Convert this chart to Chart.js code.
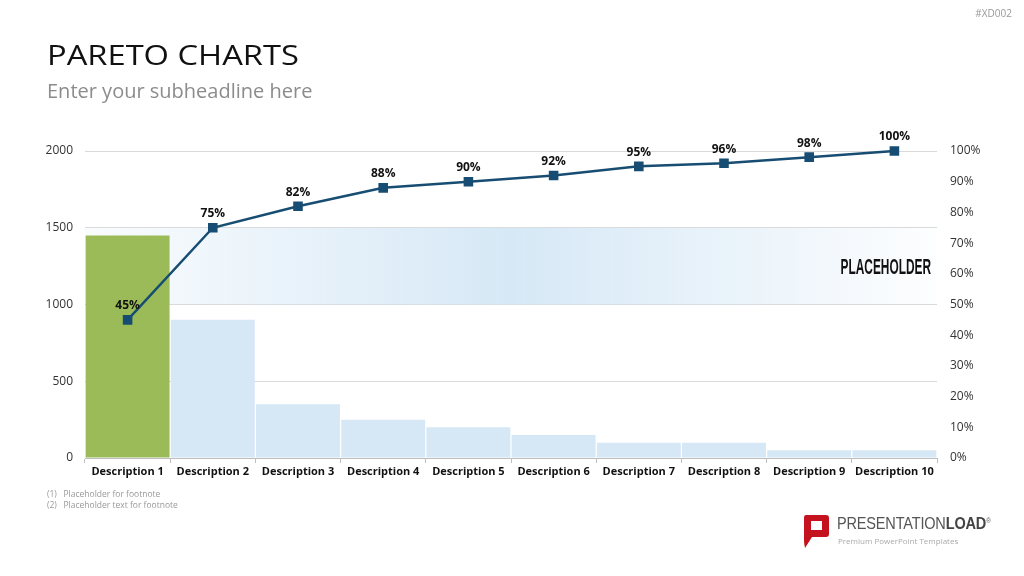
<!DOCTYPE html>
<html>
<head>
<meta charset="utf-8">
<script src="https://cdn.jsdelivr.net/npm/chart.js@4"></script>
<style>
  body { margin: 0; background: #fff; font-family: "Open Sans", sans-serif; }
  #wrap { position: relative; width: 1024px; height: 576px; overflow: hidden; }
  #chart { position: absolute; left: 0; top: 0; }
  .title { position: absolute; left: 47px; top: 36px; font-size: 27px; color: #111; white-space: nowrap;
    transform: scaleX(1.21); transform-origin: left top; }
  .sub { position: absolute; left: 47px; top: 77px; font-size: 20px; color: #8c8c8c; white-space: nowrap; }
  .code { position: absolute; right: 12px; top: 6px; font-size: 10px; color: #999; }
  .foot { position: absolute; left: 47px; font-size: 8.5px; color: #999; }
  .logo { position: absolute; left: 802px; top: 514px; }
  .brand { position: absolute; left: 837px; top: 514px; font-size: 16.5px; color: #555; letter-spacing: -0.2px;
    font-family: "Liberation Sans Narrow", "Liberation Sans", sans-serif; white-space: nowrap;
    transform: scaleX(0.88); transform-origin: left top; }
  .brand b { font-weight: 700; color: #444; }
  .brand sup { font-size: 7px; }
  .tag { position: absolute; left: 838px; top: 535px; font-size: 8px; color: #aaa; white-space: nowrap; }
</style>
</head>
<body>
<div id="wrap">
  <canvas id="chart" width="1024" height="576"></canvas>
  <div class="code">#XD002</div>
  <div class="title">PARETO CHARTS</div>
  <div class="sub">Enter your subheadline here</div>
  <div class="foot" style="top:488px">(1)&nbsp;&nbsp; Placeholder for footnote</div>
  <div class="foot" style="top:499px">(2)&nbsp;&nbsp; Placeholder text for footnote</div>
  <svg class="logo" width="28" height="36" viewBox="0 0 28 36">
    <path d="M4 1 H24 Q27 1 27 4 V20 Q27 23 24 23 H10 L3 34 Q2 30 2 26 V4 Q2 1 4 1 Z" fill="#c4121e"/>
    <rect x="9" y="7" width="11" height="9" fill="#fff"/>
  </svg>
  <div class="brand">PRESENTATION<b>LOAD</b><sup>®</sup></div>
  <div class="tag">Premium PowerPoint Templates</div>
</div>
<script>
const categories = ["Description 1", "Description 2", "Description 3", "Description 4", "Description 5",
  "Description 6", "Description 7", "Description 8", "Description 9", "Description 10"];
const barValues = [1450, 900, 350, 250, 200, 150, 100, 100, 50, 50];
const cumulativePct = [45, 75, 82, 88, 90, 92, 95, 96, 98, 100];
const bandRange = [1000, 1500];
const bandLabel = "PLACEHOLDER";

const barColors = barValues.map((v, i) => i === 0 ? "#9bbb59" : "#d6e8f6");
const lineColor = "#174d72";

// light blue band behind the bars, with its label
const bandPlugin = {
  id: "band",
  beforeDatasetsDraw(chart) {
    const ctx = chart.ctx;
    const area = chart.chartArea;
    const y = chart.scales.y;
    const top = y.getPixelForValue(bandRange[1]);
    const bottom = y.getPixelForValue(bandRange[0]);
    const grad = ctx.createLinearGradient(area.left, 0, area.right, 0);
    grad.addColorStop(0, "rgba(214,232,246,0.12)");
    grad.addColorStop(0.5, "rgba(214,232,246,1)");
    grad.addColorStop(1, "rgba(214,232,246,0.05)");
    ctx.save();
    ctx.fillStyle = grad;
    ctx.fillRect(area.left, top, area.right - area.left, bottom - top);
    // condensed label: narrow font squeezed horizontally
    ctx.fillStyle = "#111";
    ctx.font = "bold 22px 'Liberation Sans Narrow', 'Liberation Sans', sans-serif";
    ctx.textAlign = "right";
    ctx.textBaseline = "alphabetic";
    ctx.translate(area.right - 6, (top + bottom) / 2 + 8);
    ctx.scale(0.54, 1);
    ctx.fillText(bandLabel, 0, 0);
    ctx.restore();
  }
};

// percent labels above the line points
const labelPlugin = {
  id: "pctLabels",
  afterDatasetsDraw(chart) {
    const ctx = chart.ctx;
    const meta = chart.getDatasetMeta(1);
    ctx.save();
    ctx.fillStyle = "#111";
    ctx.font = "bold 12px 'Open Sans', sans-serif";
    ctx.textAlign = "center";
    ctx.textBaseline = "bottom";
    meta.data.forEach((pt, i) => {
      ctx.fillText(cumulativePct[i] + "%", pt.x, pt.y - 8);
    });
    ctx.restore();
  }
};

new Chart(document.getElementById("chart"), {
  data: {
    labels: categories,
    datasets: [
      {
        type: "bar",
        data: barValues,
        backgroundColor: barColors,
        barPercentage: 0.985,
        categoryPercentage: 1,
        yAxisID: "y",
        order: 2
      },
      {
        type: "line",
        data: cumulativePct,
        borderColor: lineColor,
        borderWidth: 2.5,
        pointStyle: "rect",
        pointRadius: 5,
        pointBackgroundColor: lineColor,
        pointBorderColor: lineColor,
        yAxisID: "y2",
        clip: false,
        order: 1
      }
    ]
  },
  options: {
    responsive: false,
    animation: false,
    layout: { padding: { top: 151, left: 0, right: 0, bottom: 88 } },
    plugins: { legend: { display: false }, tooltip: { enabled: false } },
    scales: {
      x: {
        grid: { offset: true, drawOnChartArea: false, drawTicks: true, tickLength: 5, color: "#bfbfbf" },
        border: { display: true, color: "#bfbfbf" },
        ticks: { color: "#111", font: { family: "'Open Sans', sans-serif", size: 11, weight: "bold" }, maxRotation: 0, padding: 2 },
        afterFit(s) { s.height = 30; }
      },
      y: {
        position: "left",
        min: 0, max: 2000,
        ticks: { stepSize: 500, color: "#333", font: { family: "'Open Sans', sans-serif", size: 12 }, padding: 12,
          callback: v => String(v) },
        grid: { color: "#d9d9d9", drawTicks: false, lineWidth: 1 },
        border: { display: false },
        afterFit(s) { s.width = 85; }
      },
      y2: {
        position: "right",
        min: 0, max: 100,
        ticks: { stepSize: 10, color: "#333", font: { family: "'Open Sans', sans-serif", size: 12 }, padding: 13,
          callback: v => v + "%" },
        grid: { display: false, drawTicks: false },
        border: { display: false },
        afterFit(s) { s.width = 87; }
      }
    }
  },
  plugins: [bandPlugin, labelPlugin]
});
</script>
</body>
</html>
